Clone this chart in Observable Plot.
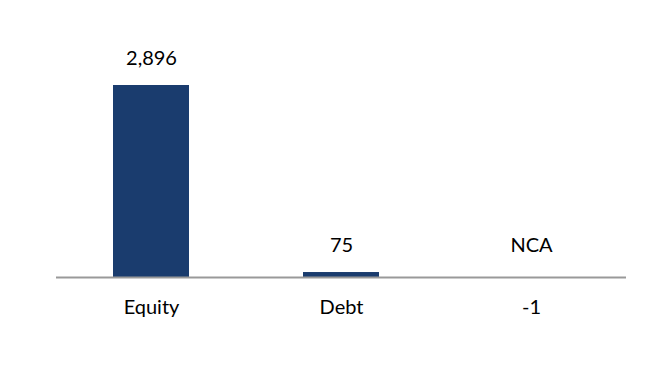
<!DOCTYPE html>
<html>
<head>
<meta charset="utf-8">
<script src="https://cdn.jsdelivr.net/npm/d3@7"></script>
<script src="https://cdn.jsdelivr.net/npm/@observablehq/plot@0.6"></script>
<style>
  html, body { margin: 0; padding: 0; background: #fff; }
  #chart svg { display: block; }
</style>
</head>
<body>
<div id="chart"></div>
<script>
const categories = ["Equity", "Debt", "NCA"];
const values = [2896, 75, -1];

const data = categories.map((c, i) => ({category: c, value: values[i]}));
const fmt = v => d3.format(",")(v).replace("\u2212", "-");

const chart = Plot.plot({
  width: 664,
  height: 374,
  marginLeft: 56,
  marginRight: 38,
  marginTop: 85,
  marginBottom: 97,
  style: {fontFamily: "Lato, sans-serif", fontSize: "20px", color: "#000", background: "#fff"},
  x: {domain: categories, paddingInner: 0.6, paddingOuter: 0.3, axis: null},
  y: {domain: [0, 2896], axis: null},
  marks: [
    Plot.barY(data, {x: "category", y: "value", fill: "#1a3c6e"}),
    Plot.ruleY([0], {stroke: "#999", strokeWidth: 2}),
    Plot.text(data, {
      x: "category",
      y: d => Math.max(d.value, 0),
      text: d => fmt(d.value),
      dy: -27,
      fill: "#000",
      filter: d => d.value >= 0
    }),
    Plot.text(data, {
      x: "category",
      y: d => Math.min(d.value, 0),
      text: d => fmt(d.value),
      dy: 30,
      fill: "#000",
      filter: d => d.value < 0
    }),
    Plot.text(data, {
      x: "category",
      y: 0,
      text: "category",
      dy: 30,
      fill: "#000",
      filter: d => d.value >= 0
    }),
    Plot.text(data, {
      x: "category",
      y: 0,
      text: "category",
      dy: -32,
      fill: "#000",
      filter: d => d.value < 0
    })
  ]
});
document.getElementById("chart").appendChild(chart);
</script>
</body>
</html>
